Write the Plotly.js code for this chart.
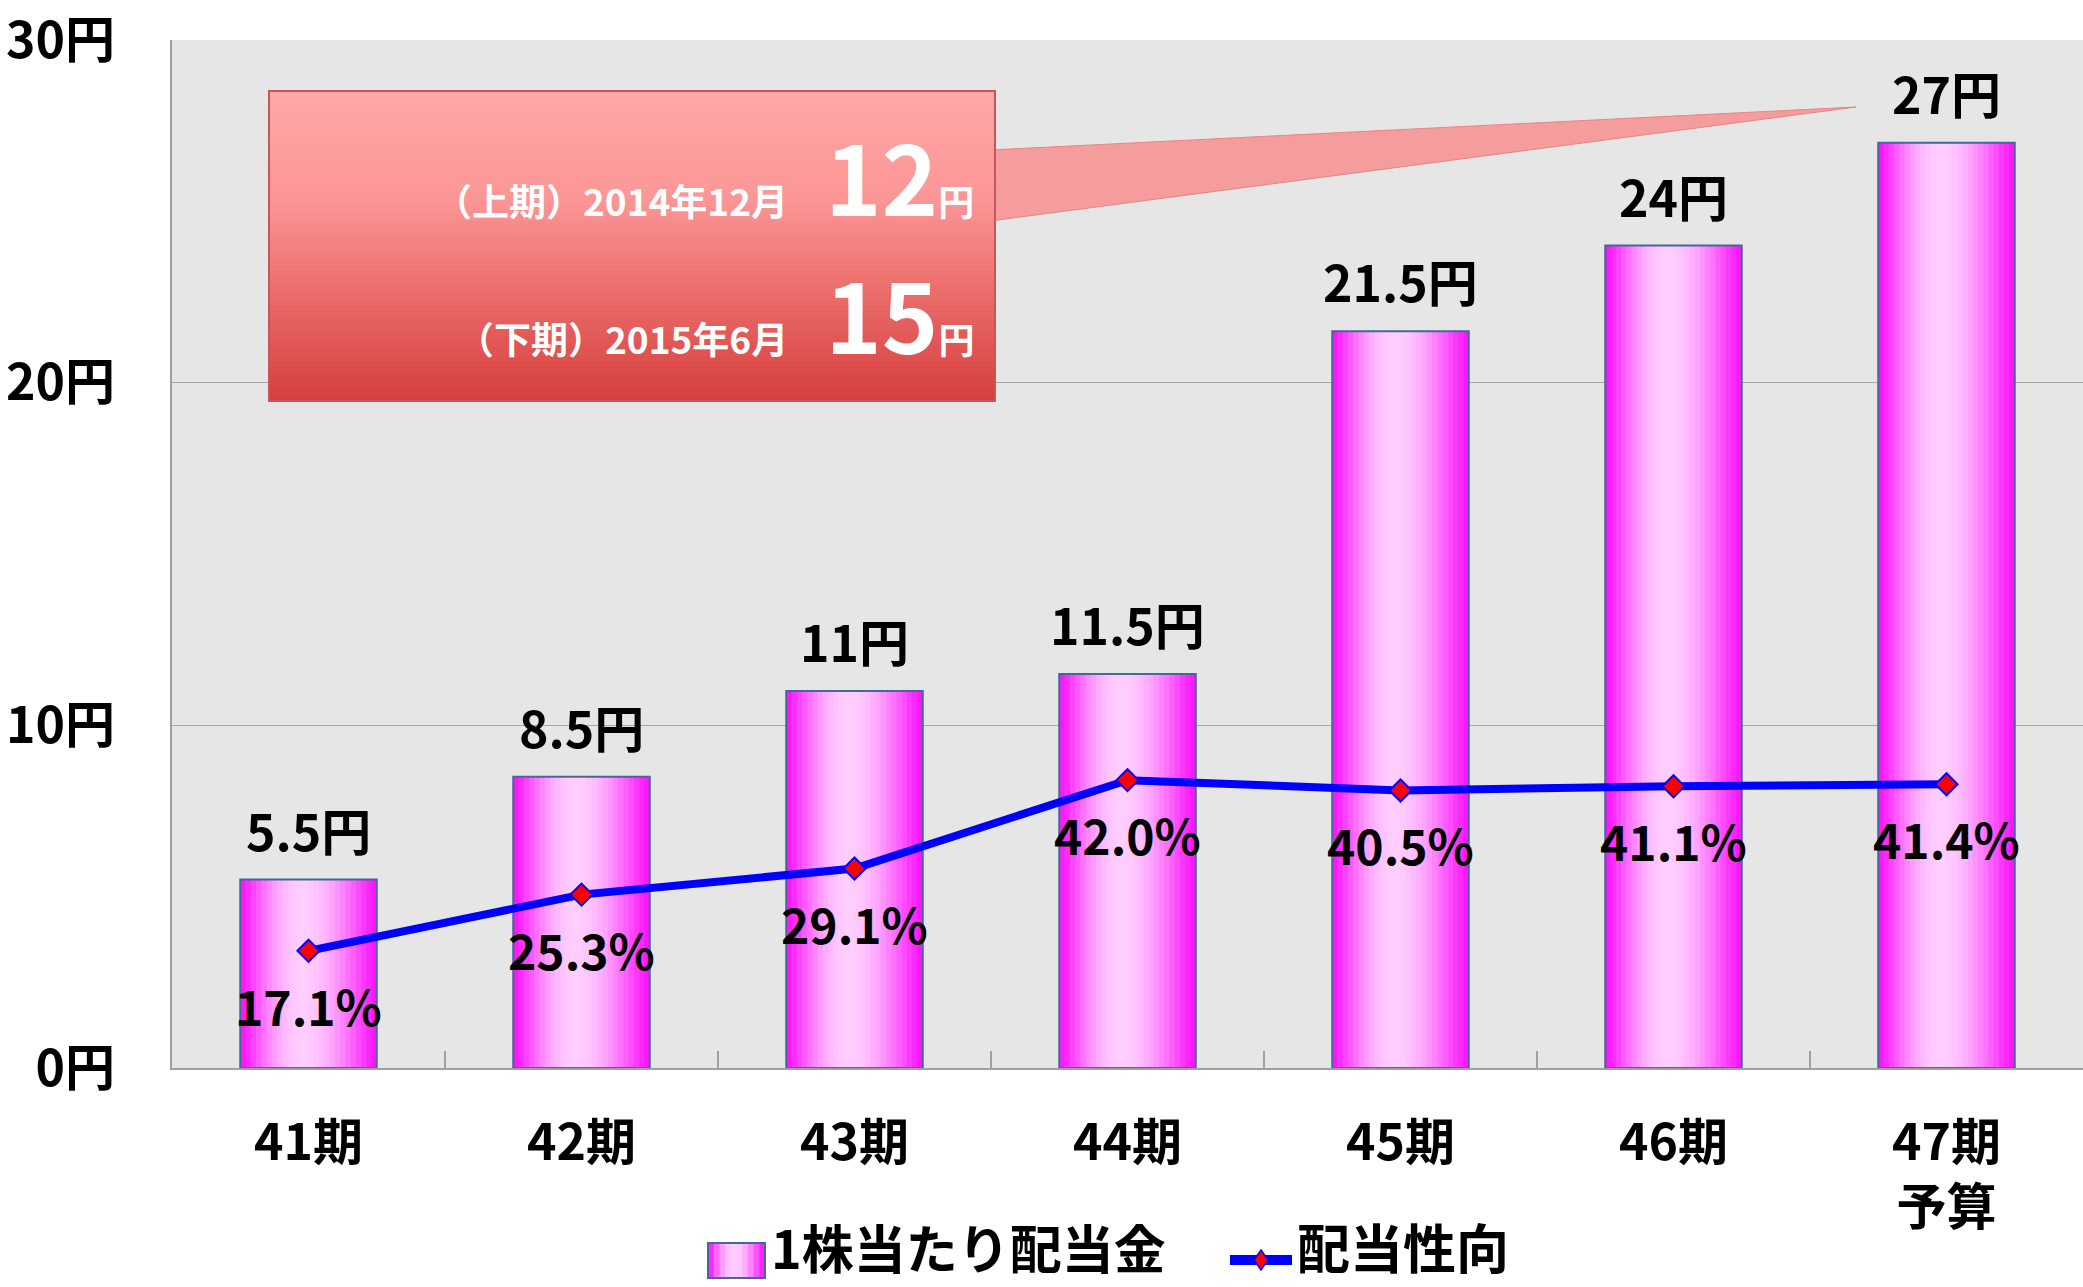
<!DOCTYPE html>
<html>
<head>
<meta charset="utf-8">
<script src="https://cdn.plot.ly/plotly-3.0.1.min.js"></script>
<style>
  html, body { margin: 0; padding: 0; background: #ffffff; }
  #chart { width: 2083px; height: 1287px; }
</style>
</head>
<body>
<div id="chart"></div>
<script>
// ---------------- data ----------------
const categories   = ['41期', '42期', '43期', '44期', '45期', '46期', '47期'];
const tickLabels   = ['41期', '42期', '43期', '44期', '45期', '46期', '47期<br>予算'];
const dividends    = [5.5, 8.5, 11, 11.5, 21.5, 24, 27];           // 1株当たり配当金 (円)
const payoutRatio  = [17.1, 25.3, 29.1, 42.0, 40.5, 41.1, 41.4];   // 配当性向 (%)
const yTickVals    = [0, 10, 20, 30];
const yTickText    = ['0円', '10円', '20円', '30円'];
const seriesNames  = ['1株当たり配当金', '配当性向'];
const calloutLabels  = ['（上期）2014年12月', '（下期）2015年6月'];
const calloutAmounts = ['12', '15'];

// ---------------- layout helpers ----------------
const FONT = '"Noto Sans CJK JP", "Noto Sans", sans-serif';
const L = 172, R = 2083, T = 40, B = 1068;
const W = R - L, H = B - T;
const px = x => (x - L) / W;
const py = y => (B - y) / H;

function mix(a, b, f) {
  return 'rgb(' + a.map((v, i) => Math.round(v + (b[i] - v) * f)).join(',') + ')';
}
const MAG = [250, 18, 250], LIGHT = [255, 206, 255];
function barColor(t) {
  const c = 0.45;
  let s = t < c ? t / c : (1 - t) / (1 - c);
  const f = Math.sin(Math.min(1, s) * Math.PI / 2);
  return mix(MAG, LIGHT, Math.pow(f, 1.2));
}

// ---------------- traces ----------------
const BAR_W = 0.5;
const N = 26;
const traces = [];
for (let i = 0; i < N; i++) {
  const t = (i + 0.5) / N;
  traces.push({
    type: 'bar', x: categories, y: dividends, name: seriesNames[0],
    width: (BAR_W / N) * (i === N - 1 ? 1 : 1.25),
    offset: -BAR_W / 2 + i * BAR_W / N,
    marker: { color: barColor(t), line: { width: 0 } },
    showlegend: false, hoverinfo: 'skip'
  });
}
// outline
traces.push({
  type: 'bar', x: categories, y: dividends, name: seriesNames[0],
  width: BAR_W, offset: -BAR_W / 2,
  marker: { color: 'rgba(0,0,0,0)', line: { color: '#46679A', width: 2 } },
  showlegend: false
});
// payout ratio line
traces.push({
  type: 'scatter', mode: 'lines+markers', x: categories, y: payoutRatio,
  yaxis: 'y2', name: seriesNames[1],
  line: { color: '#0000FF', width: 8 },
  marker: { symbol: 'diamond', size: 17, color: '#FF0000', line: { color: '#0000FF', width: 2 } },
  showlegend: false
});

// ---------------- annotations ----------------
const annotations = [];
const labelFont = { family: FONT, size: 50, color: '#000000', weight: 700 };
categories.forEach((c, i) => {
  annotations.push({
    x: c, y: dividends[i], xref: 'x', yref: 'y', text: dividends[i] + '円',
    showarrow: false, yanchor: 'middle', xanchor: 'center', yshift: 51,
    font: labelFont
  });
  annotations.push({
    x: c, y: payoutRatio[i], xref: 'x', yref: 'y2', text: payoutRatio[i].toFixed(1) + '%',
    showarrow: false, yanchor: 'middle', xanchor: 'center', yshift: -54,
    font: { family: FONT, size: 48, color: '#000000', weight: 700 }
  });
});
// callout texts
const calloutY = [175, 313];
calloutLabels.forEach((lab, i) => {
  annotations.push({
    xref: 'paper', yref: 'paper', x: px(976), y: py(calloutY[i]),
    xanchor: 'right', yanchor: 'middle', showarrow: false,
    text: '<span style="font-size:37px">' + lab + '　</span>' + calloutAmounts[i] +
          '<span style="font-size:36px">円</span>',
    font: { family: FONT, size: 96, color: '#FFFFFF', weight: 700 }
  });
});
// custom legend texts
annotations.push({
  xref: 'paper', yref: 'paper', x: px(770), y: py(1246), xanchor: 'left', yanchor: 'middle',
  showarrow: false, borderpad: 0, text: seriesNames[0], font: { family: FONT, size: 52, color: '#000', weight: 700 }
});
annotations.push({
  xref: 'paper', yref: 'paper', x: px(1296), y: py(1246), xanchor: 'left', yanchor: 'middle',
  showarrow: false, borderpad: 0, text: seriesNames[1], font: { family: FONT, size: 53, color: '#000', weight: 700 }
});

// ---------------- shapes ----------------
const shapes = [];
// callout wedge
shapes.push({
  type: 'path', xref: 'paper', yref: 'paper',
  path: `M${px(990)},${py(150)} L${px(1856)},${py(107)} L${px(990)},${py(221)} Z`,
  fillcolor: '#F59C9C', line: { width: 1, color: '#E58585' }
});
// callout rectangle gradient
const stops = [[0, [255, 168, 168]], [0.35, [252, 150, 150]], [0.6, [237, 116, 114]], [1, [214, 62, 60]]];
function rectColor(t) {
  for (let k = 0; k < stops.length - 1; k++) {
    if (t <= stops[k + 1][0]) {
      const f = (t - stops[k][0]) / (stops[k + 1][0] - stops[k][0]);
      return mix(stops[k][1], stops[k + 1][1], f);
    }
  }
  return mix(stops[3][1], stops[3][1], 0);
}
const RX0 = 269, RX1 = 995, RY0 = 91, RY1 = 401, NS = 62;
for (let i = 0; i < NS; i++) {
  const y0 = RY0 + (RY1 - RY0) * i / NS;
  const y1 = RY0 + (RY1 - RY0) * (i + 1) / NS + 0.8;
  shapes.push({
    type: 'rect', xref: 'paper', yref: 'paper',
    x0: px(RX0), x1: px(RX1), y0: py(y0), y1: py(Math.min(y1, RY1)),
    fillcolor: rectColor((i + 0.5) / NS), line: { width: 0 }
  });
}
shapes.push({
  type: 'rect', xref: 'paper', yref: 'paper',
  x0: px(RX0), x1: px(RX1), y0: py(RY0), y1: py(RY1),
  fillcolor: 'rgba(0,0,0,0)', line: { width: 2, color: '#C85655' }
});
// legend swatch (gradient)
const SX0 = 708, SX1 = 765, SY0 = 1243, SY1 = 1278, NL = 10;
for (let i = 0; i < NL; i++) {
  shapes.push({
    type: 'rect', xref: 'paper', yref: 'paper',
    x0: px(SX0 + (SX1 - SX0) * i / NL), x1: px(SX0 + (SX1 - SX0) * (i + 1) / NL + 0.6),
    y0: py(SY0), y1: py(SY1), fillcolor: barColor((i + 0.5) / NL), line: { width: 0 }
  });
}
shapes.push({
  type: 'rect', xref: 'paper', yref: 'paper', x0: px(SX0), x1: px(SX1), y0: py(SY0), y1: py(SY1),
  fillcolor: 'rgba(0,0,0,0)', line: { width: 2, color: '#46679A' }
});
// legend line + diamond
shapes.push({
  type: 'line', xref: 'paper', yref: 'paper', x0: px(1230), x1: px(1292), y0: py(1260), y1: py(1260),
  line: { color: '#0000FF', width: 10 }
});
shapes.push({
  type: 'path', xref: 'paper', yref: 'paper',
  path: `M${px(1261)},${py(1250)} L${px(1268)},${py(1260)} L${px(1261)},${py(1270)} L${px(1254)},${py(1260)} Z`,
  fillcolor: '#FF0000', line: { color: '#0000FF', width: 1.5 }
});

// ---------------- layout ----------------
const layout = {
  width: 2083, height: 1287,
  margin: { l: L, r: 2083 - R, t: T, b: 1287 - B, pad: 0 },
  paper_bgcolor: '#FFFFFF', plot_bgcolor: '#E6E6E6',
  barmode: 'overlay',
  showlegend: false,
  hovermode: false,
  font: { family: FONT, color: '#000000' },
  xaxis: {
    type: 'category', categoryarray: categories,
    tickvals: categories, ticktext: tickLabels,
    showline: true, linecolor: '#A0A0A0', linewidth: 2,
    ticks: 'inside', tickson: 'boundaries', ticklen: 17, tickcolor: '#A0A0A0', tickwidth: 1.5,
    showgrid: false, zeroline: false,
    tickfont: { family: FONT, size: 50, color: '#000', weight: 700 },
    ticklabelstandoff: 30,
    range: [-0.5, 6.5]
  },
  yaxis: {
    range: [0, 30], tickvals: yTickVals, ticktext: yTickText,
    showgrid: true, gridcolor: '#A6A6A6', gridwidth: 1.5,
    showline: true, linecolor: '#A0A0A0', linewidth: 2,
    zeroline: false, ticks: '',
    tickfont: { family: FONT, size: 50, color: '#000', weight: 700 },
    ticklabelstandoff: 45,
    ticklabeloverflow: 'allow'
  },
  yaxis2: {
    range: [0, 150], overlaying: 'y', side: 'right',
    showgrid: false, showticklabels: false, zeroline: false, showline: false, ticks: ''
  },
  annotations: annotations,
  shapes: shapes
};

Plotly.newPlot('chart', traces, layout, { displayModeBar: false, staticPlot: true });
</script>
</body>
</html>
